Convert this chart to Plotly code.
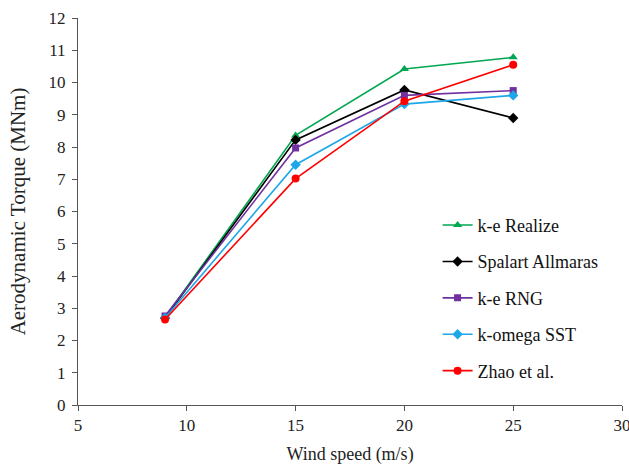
import plotly.graph_objects as go

wind_speed = [9, 15, 20, 25]
ke_realize = [2.72, 8.36, 10.42, 10.78]
spalart = [2.70, 8.22, 9.77, 8.90]
ke_rng = [2.76, 7.97, 9.60, 9.75]
komega_sst = [2.70, 7.45, 9.33, 9.60]
zhao = [2.65, 7.02, 9.42, 10.55]

series = [
    ("k-e Realize", ke_realize, "#00A651", "triangle-up", 8),
    ("Spalart Allmaras", spalart, "#000000", "diamond", 8),
    ("k-e RNG", ke_rng, "#7030A0", "square", 7),
    ("k-omega SST", komega_sst, "#1EA7E8", "diamond", 8),
    ("Zhao et al.", zhao, "#FF0000", "circle", 8),
]

fig = go.Figure()
for i, (name, vals, color, sym, size) in enumerate(series):
    fig.add_trace(go.Scatter(
        x=wind_speed, y=vals, name=name, mode="lines+markers",
        line=dict(color=color, width=1.6),
        marker=dict(symbol=sym, size=size, color=color),
        legendgroup=f"g{i}",
    ))

font_family = "Liberation Serif, Times New Roman, serif"
fig.update_layout(
    width=629, height=467,
    margin=dict(l=78, r=7, t=18, b=62),
    paper_bgcolor="white", plot_bgcolor="white",
    font=dict(family=font_family, size=17, color="#222"),
    legend=dict(x=0.661, y=0.512, xanchor="left", yanchor="top",
                font=dict(family=font_family, size=18, color="#111"),
                tracegroupgap=10, itemwidth=30, bgcolor="rgba(0,0,0,0)"),
    showlegend=True,
)
fig.update_xaxes(
    range=[5, 30], dtick=5, tick0=5, showgrid=False, zeroline=False,
    showline=True, linecolor="#555", linewidth=1,
    ticks="outside", ticklen=5, tickcolor="#555",
    ticklabeloverflow="allow", automargin=False,
    title=dict(text="Wind speed (m/s)", font=dict(size=18), standoff=12),
)
fig.update_yaxes(
    range=[0, 12], dtick=1, showgrid=False, zeroline=False,
    showline=True, linecolor="#555", linewidth=1,
    ticks="outside", ticklen=5, tickcolor="#555",
    ticklabelstandoff=3, automargin=False,
    title=dict(text="Aerodynamic Torque (MNm)", font=dict(size=21), standoff=17),
)

fig.write_html("out.html", config={"displayModeBar": False},
               post_script="document.body.style.margin='0';")
